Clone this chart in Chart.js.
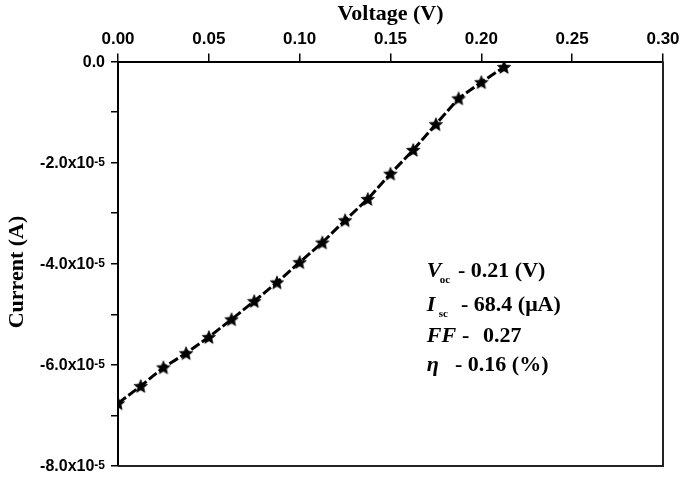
<!DOCTYPE html>
<html>
<head>
<meta charset="utf-8">
<script src="https://cdn.jsdelivr.net/npm/chart.js@4.4.1/dist/chart.umd.min.js"></script>
<style>
  body { margin: 0; background: #fff; }
  #wrap { width: 685px; height: 477px; }
</style>
</head>
<body>
<div id="wrap"><canvas id="iv" width="685" height="477"></canvas></div>
<script>
// I-V curve
const voltage = [0, 0.0125, 0.025, 0.0375, 0.05, 0.0625, 0.075, 0.0875, 0.1, 0.1125,
  0.125, 0.1375, 0.15, 0.1625, 0.175, 0.1875, 0.2, 0.2125];
const current = [-6.76e-5, -6.42e-5, -6.05e-5, -5.77e-5, -5.45e-5, -5.10e-5, -4.74e-5, -4.37e-5,
  -3.97e-5, -3.58e-5, -3.14e-5, -2.72e-5, -2.22e-5, -1.75e-5, -1.24e-5, -0.73e-5, -0.41e-5, -0.11e-5];

const xTicks = [0, 0.05, 0.1, 0.15, 0.2, 0.25, 0.3];
const yLabels = { 0: '0.0', '-2': '-2.0x10', '-4': '-4.0x10', '-6': '-6.0x10', '-8': '-8.0x10' };

// cell parameters box
const params = [
  { sym: 'V', sub: 'oc', text: '- 0.21 (V)' },
  { sym: 'I', sub: 'sc', text: '- 68.4 (\u03bcA)' },
  { sym: 'FF', sub: '', text: '-   0.27' },
  { sym: '\u03b7', sub: '', text: '- 0.16 (%)' },
];

const serif = '"Liberation Serif", "Times New Roman", serif';
const sans = '"Liberation Sans", Arial, sans-serif';

// filled 5-point star for the markers
const starImg = document.createElement('canvas');
starImg.width = 16; starImg.height = 16;
(() => {
  const c = starImg.getContext('2d');
  c.fillStyle = '#000';
  c.strokeStyle = '#000';
  c.lineWidth = 0.8;
  c.lineJoin = 'miter';
  c.beginPath();
  for (let i = 0; i < 10; i++) {
    const r = i % 2 === 0 ? 7 : 3.1;
    const a = -Math.PI / 2 + i * Math.PI / 5;
    const px = 8 + r * Math.cos(a), py = 8.6 + r * Math.sin(a);
    i === 0 ? c.moveTo(px, py) : c.lineTo(px, py);
  }
  c.closePath();
  c.fill();
  c.stroke();
})();

const frame = {
  id: 'frame',
  afterDraw(chart) {
    const { ctx, chartArea: { left, right, top, bottom }, scales: { x, y } } = chart;
    ctx.save();
    // right + bottom edges of the box
    ctx.strokeStyle = '#222';
    ctx.lineWidth = 2;
    ctx.beginPath();
    ctx.moveTo(left, bottom);
    ctx.lineTo(right, bottom);
    ctx.lineTo(right, top);
    ctx.stroke();

    // y axis title, sits a bit lower than centre in the original
    ctx.fillStyle = '#000';
    ctx.save();
    ctx.translate(17, 272);
    ctx.rotate(-Math.PI / 2);
    ctx.font = 'bold 22px ' + serif;
    ctx.textAlign = 'center';
    ctx.textBaseline = 'middle';
    ctx.fillText('Current (A)', 0, 0);
    ctx.restore();

    // y tick labels with superscript exponent
    const endX = left - 13;
    y.ticks.forEach(t => {
      const k = Math.round(t.value / 1e-5);
      const lbl = yLabels[k];
      if (lbl === undefined) return;
      const py = y.getPixelForValue(t.value);
      ctx.font = 'bold 12px ' + sans;
      const sup = k === 0 ? '' : '-5';
      const w2 = ctx.measureText(sup).width;
      ctx.textBaseline = 'top';
      ctx.textAlign = 'left';
      if (sup) ctx.fillText(sup, endX - w2, py - 6);
      ctx.font = 'bold 16px ' + sans;
      ctx.textBaseline = 'middle';
      ctx.textAlign = 'right';
      ctx.fillText(lbl, endX - w2, py + 1);
    });

    // parameters text
    const bx = x.getPixelForValue(0.17);
    const baselines = [277, 311, 342, 371];
    const textX = [458, 461, 462, 455];
    params.forEach((p, i) => {
      const by = baselines[i];
      ctx.textBaseline = 'alphabetic';
      ctx.textAlign = 'left';
      ctx.font = 'italic bold 22px ' + serif;
      ctx.fillText(p.sym, bx, by);
      if (p.sub) {
        ctx.font = 'bold 11px ' + serif;
        ctx.fillText(p.sub, bx + (p.sym === 'V' ? 13 : 12), by + 6);
      }
      ctx.font = 'bold 22px ' + serif;
      if (p.sym === 'FF') {
        ctx.fillText('-', textX[i], by);
        ctx.fillText('0.27', 483, by);
      } else {
        ctx.fillText(p.text, textX[i], by);
      }
    });
    ctx.restore();
  }
};

new Chart(document.getElementById('iv'), {
  type: 'scatter',
  data: {
    datasets: [{
      data: voltage.map((v, i) => ({ x: v, y: current[i] })),
      showLine: true,
      borderColor: '#000',
      borderWidth: 3,
      borderDash: [10, 3],
      pointStyle: starImg,
      pointRadius: 7,
      backgroundColor: '#000',
    }]
  },
  options: {
    responsive: false,
    animation: false,
    layout: { padding: { left: 0, right: 22, top: 0, bottom: 11 } },
    plugins: { legend: { display: false }, tooltip: { enabled: false } },
    scales: {
      x: {
        type: 'linear',
        position: 'top',
        min: 0,
        max: 0.3,
        afterFit: s => { s.height = 61.5; },
        afterBuildTicks: s => { s.ticks = xTicks.map(v => ({ value: v })); },
        border: { display: true, color: '#000', width: 2 },
        grid: { drawOnChartArea: false, drawTicks: true, tickLength: 8, color: '#000', lineWidth: 1.5 },
        ticks: {
          color: '#000',
          padding: 4,
          maxRotation: 0,
          font: { family: sans, size: 17, weight: 'bold' },
          callback: v => v.toFixed(2)
        },
        title: {
          display: true,
          text: 'Voltage (V)',
          color: '#000',
          padding: { top: 1, bottom: 0 },
          font: { family: serif, size: 22, weight: 'bold' }
        }
      },
      y: {
        type: 'linear',
        min: -8e-5,
        max: 0,
        afterFit: s => { s.width = 118; },
        border: { display: true, color: '#000', width: 2 },
        grid: { drawOnChartArea: false, drawTicks: true, tickLength: 7, color: '#000', lineWidth: 1.5 },
        ticks: { display: false, stepSize: 1e-5 }
      }
    }
  },
  plugins: [frame]
});
</script>
</body>
</html>
